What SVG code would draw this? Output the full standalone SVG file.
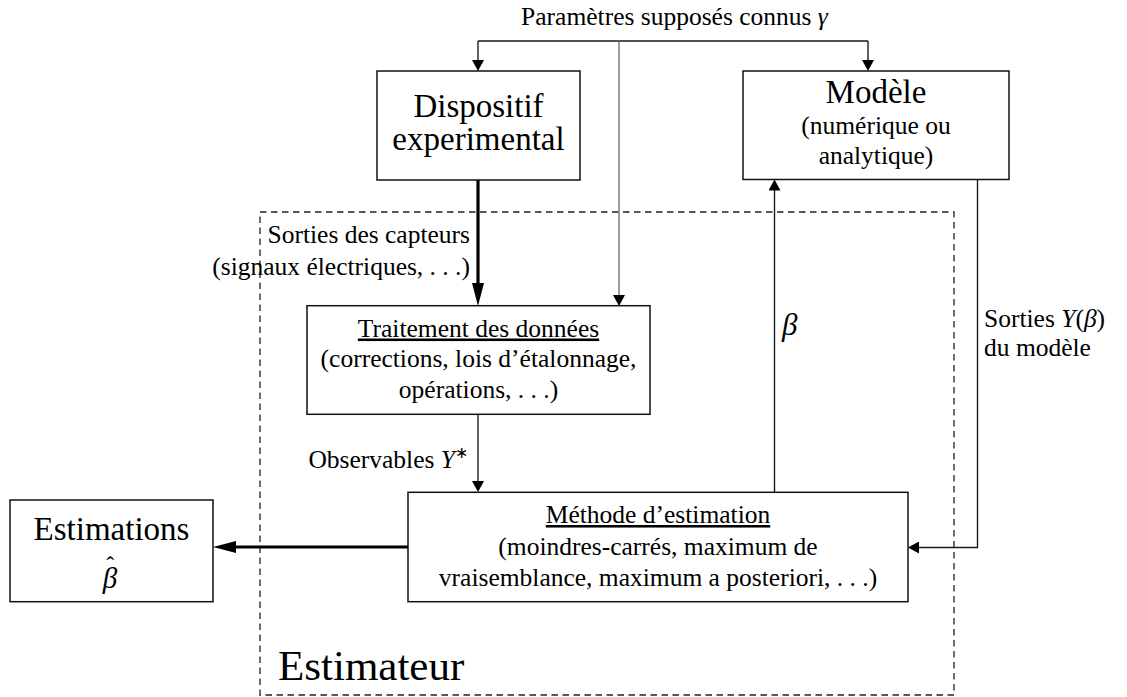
<svg xmlns="http://www.w3.org/2000/svg" width="1127" height="697" viewBox="0 0 1127 697">
<defs>
  <marker id="ah" markerUnits="userSpaceOnUse" markerWidth="11" markerHeight="12" viewBox="0 0 11 12" refX="5" refY="6" orient="auto">
    <path d="M0,0 L11,6 L0,12 z" fill="#000000"/>
  </marker>
  <marker id="ahT" markerUnits="userSpaceOnUse" markerWidth="23" markerHeight="12" viewBox="0 0 23 12" refX="3" refY="6" orient="auto">
    <path d="M0,0 L23,6 L0,12 z" fill="#000000"/>
  </marker>
</defs>
<rect x="0" y="0" width="1127" height="697" fill="#ffffff"/>

<g id="estimateur">
  <rect x="260" y="212" width="694" height="483" fill="none" stroke="#222222" stroke-width="1.3" stroke-dasharray="6.5 4.5"/>
  <text x="278" y="680" font-family="Liberation Serif" font-size="43" fill="#000">Estimateur</text>
</g>

<g id="connectors" fill="none" stroke="#1a1a1a" stroke-width="1.4">
  <path d="M478,41 H868"/>
  <path d="M478,41 V65" marker-end="url(#ah)"/>
  <path d="M868,41 V65" marker-end="url(#ah)"/>
  <path d="M619,41 V300" stroke="#6a6a6a" stroke-width="1.3" marker-end="url(#ah)"/>
  <path d="M478,180 V286" stroke="#000000" stroke-width="3.2" marker-end="url(#ahT)"/>
  <path d="M478,414 V486" marker-end="url(#ah)"/>
  <path d="M774.5,492 V185.5" marker-end="url(#ah)"/>
  <path d="M977.5,179.5 V547.5 H914" marker-end="url(#ah)"/>
  <path d="M408,547 H233" stroke="#000000" stroke-width="3.2" marker-end="url(#ahT)"/>
</g>

<g id="labels">
  <text x="674.5" y="25" font-family="Liberation Serif" font-size="25.5" text-anchor="middle" fill="#000">Paramètres supposés connus <tspan font-style="italic">γ</tspan></text>
  <text x="470" y="243" font-family="Liberation Serif" font-size="25.5" text-anchor="end" fill="#000">Sorties des capteurs</text>
  <text x="470" y="275" font-family="Liberation Serif" font-size="25.5" text-anchor="end" fill="#000">(signaux électriques, . . .)</text>
  <text x="468" y="468" font-family="Liberation Serif" font-size="25.5" text-anchor="end" fill="#000">Observables <tspan font-style="italic">Y</tspan><tspan font-size="16" dy="-10">∗</tspan></text>
  <text x="782" y="335" font-family="Liberation Serif" font-size="31" font-style="italic" fill="#000">β</text>
  <text x="984" y="327" font-family="Liberation Serif" font-size="25.5" fill="#000">Sorties <tspan font-style="italic">Y</tspan>(<tspan font-style="italic">β</tspan>)</text>
  <text x="984" y="356" font-family="Liberation Serif" font-size="25.5" fill="#000">du modèle</text>
</g>

<g id="dispositif">
  <rect x="377" y="71" width="203" height="109" fill="#ffffff" stroke="#111111" stroke-width="1.5"/>
  <text x="478.5" y="117" font-family="Liberation Serif" font-size="33" text-anchor="middle" fill="#000">Dispositif</text>
  <text x="478.5" y="150" font-family="Liberation Serif" font-size="33" text-anchor="middle" fill="#000">experimental</text>
</g>

<g id="modele">
  <rect x="743" y="71" width="266" height="108.5" fill="#ffffff" stroke="#111111" stroke-width="1.5"/>
  <text x="876" y="103" font-family="Liberation Serif" font-size="33" text-anchor="middle" fill="#000">Modèle</text>
  <text x="876" y="134" font-family="Liberation Serif" font-size="25.5" text-anchor="middle" fill="#000">(numérique ou</text>
  <text x="876" y="164" font-family="Liberation Serif" font-size="25.5" text-anchor="middle" fill="#000">analytique)</text>
</g>

<g id="traitement">
  <rect x="307" y="305.7" width="343" height="108.6" fill="#ffffff" stroke="#111111" stroke-width="1.5"/>
  <text x="478.5" y="336.5" font-family="Liberation Serif" font-size="25.5" text-anchor="middle" text-decoration="underline" fill="#000">Traitement des données</text>
  <text x="478.5" y="367" font-family="Liberation Serif" font-size="25.5" text-anchor="middle" fill="#000">(corrections, lois d’étalonnage,</text>
  <text x="478.5" y="398" font-family="Liberation Serif" font-size="25.5" text-anchor="middle" fill="#000">opérations, . . .)</text>
</g>

<g id="methode">
  <rect x="408" y="492.3" width="500" height="109.4" fill="#ffffff" stroke="#111111" stroke-width="1.5"/>
  <text x="658" y="523" font-family="Liberation Serif" font-size="25.5" text-anchor="middle" text-decoration="underline" fill="#000">Méthode d’estimation</text>
  <text x="658" y="554.5" font-family="Liberation Serif" font-size="25.5" text-anchor="middle" fill="#000">(moindres-carrés, maximum de</text>
  <text x="658" y="586" font-family="Liberation Serif" font-size="25.5" text-anchor="middle" fill="#000">vraisemblance, maximum a posteriori, . . .)</text>
</g>

<g id="estimations">
  <rect x="10" y="500" width="203" height="101.7" fill="#ffffff" stroke="#111111" stroke-width="1.5"/>
  <text x="111.5" y="540" font-family="Liberation Serif" font-size="33" text-anchor="middle" fill="#000">Estimations</text>
  <text x="110" y="588" font-family="Liberation Serif" font-size="29" font-style="italic" text-anchor="middle" fill="#000">β<tspan font-style="normal" dx="-11" dy="-15" font-size="24">ˆ</tspan></text>
</g>
</svg>
